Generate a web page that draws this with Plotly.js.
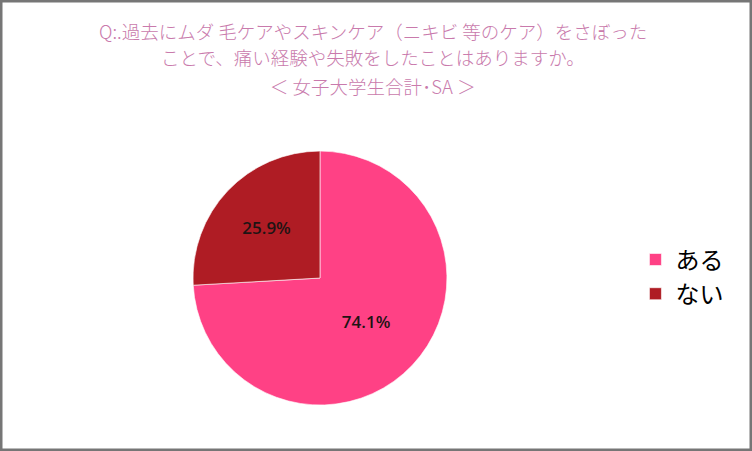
<!DOCTYPE html>
<html>
<head>
<meta charset="utf-8">
<script src="https://cdn.plot.ly/plotly-3.0.1.min.js"></script>
<style>
  body { margin: 0; background: #fff; }
  #chart { width: 752px; height: 451px; }
</style>
</head>
<body>
<div id="chart"></div>
<script>
// answers and shares (%)
var answers = ['ある', 'ない'];
var shares = [74.1, 25.9];
var sliceColors = ['#FF4185', '#AF1C24'];

var titleLines = [
  'Q:.過去にムダ 毛ケアやスキンケア（ニキビ 等のケア）をさぼった',
  'ことで、痛い経験や失敗をしたことはありますか。',
  '＜ 女子大学生合計･SA ＞'
];
var titleY = [0.931, 0.874, 0.809];

var data = [{
  type: 'pie',
  labels: answers,
  values: shares,
  sort: false,
  direction: 'clockwise',
  marker: { colors: sliceColors, line: { color: 'rgba(255,255,255,0.6)', width: 1 } },
  texttemplate: '%{percent:.1%}',
  textposition: 'inside',
  insidetextorientation: 'horizontal',
  textfont: { family: 'Open Sans, Noto Sans, sans-serif', size: 17, color: '#1e1414', weight: 600 },
  hoverinfo: 'label+percent',
  domain: { x: [0.2566, 0.5944], y: [0.102, 0.665] }
}];

var notes = [];
for (var i = 0; i < titleLines.length; i++) {
  notes.push({
    text: titleLines[i], xref: 'paper', yref: 'paper', x: 0.496, y: titleY[i],
    xanchor: 'center', yanchor: 'middle', showarrow: false,
    font: { family: 'Noto Sans CJK JP, sans-serif', size: 18.5, color: '#C97AAC', weight: 300 }
  });
}

var layout = {
  width: 752, height: 451,
  margin: { l: 0, r: 0, t: 0, b: 0 },
  paper_bgcolor: '#fff',
  showlegend: true,
  legend: {
    x: 0.845, xanchor: 'left', y: 0.386, yanchor: 'middle',
    font: { family: 'Noto Sans CJK JP, sans-serif', size: 24, color: '#000', weight: 400 },
    bgcolor: 'rgba(0,0,0,0)'
  },
  annotations: notes,
  shapes: [{
    type: 'rect', xref: 'paper', yref: 'paper', x0: 0, x1: 1, y0: 0, y1: 1,
    line: { color: '#767676', width: 5 }, fillcolor: 'rgba(0,0,0,0)'
  }]
};

Plotly.newPlot('chart', data, layout, { displayModeBar: false, staticPlot: true });
</script>
</body>
</html>
